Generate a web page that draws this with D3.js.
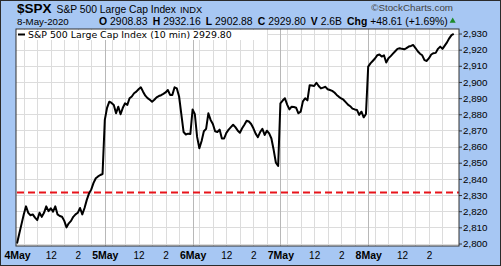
<!DOCTYPE html>
<html>
<head>
<meta charset="utf-8">
<script src="https://cdn.jsdelivr.net/npm/d3@7"></script>
<style>
body{margin:0;background:#fff}
svg{display:block}
text{font-family:"Liberation Sans",Arial,sans-serif}
</style>
</head>
<body>
<div id="chart"></div>
<script>
// 10 minute closes, 39 bars a day (9:30 .. 15:50)
var days = ["4May", "5May", "6May", "7May", "8May"];
var may4 = [2800, 2806, 2812, 2818, 2823, 2819, 2817.5, 2818, 2816, 2814.5, 2819, 2816.5, 2819, 2823, 2820,
	2821.8, 2819.7, 2823, 2818, 2817, 2816.6, 2814, 2810, 2812.5, 2814, 2816.5, 2818, 2819, 2822, 2818,
	2822, 2827, 2831, 2833.5, 2837.5, 2840.4, 2841.5, 2842.4, 2843];
var may5 = [2876.5, 2884, 2887.8, 2887, 2885.8, 2880.6, 2884.7, 2880, 2884, 2886.8, 2885.8, 2889.9, 2891, 2893, 2894,
	2895.5, 2896.7, 2894, 2891.5, 2890, 2889, 2887.8, 2889, 2890.5, 2891.3, 2891.8, 2892.6, 2893.5, 2895, 2892,
	2892, 2896.7, 2896, 2891, 2880, 2869, 2867.5, 2868, 2867.8];
var may6 = [2883, 2880, 2866, 2859, 2863.5, 2869.5, 2871, 2880.6, 2876.5, 2874, 2869.5, 2869, 2870.5, 2865, 2865,
	2868.5, 2870.5, 2872, 2873.5, 2872, 2870, 2868.6, 2871.3, 2873.5, 2876, 2875.5, 2874, 2871.3, 2868, 2865.8,
	2869, 2871, 2867.2, 2869.8, 2868.2, 2865, 2858, 2850, 2848];
var may7 = [2886.8, 2888.5, 2889.9, 2886, 2883, 2884.7, 2884.5, 2884, 2880.6, 2881.6, 2888, 2889.9, 2888.6, 2898, 2897.8,
	2897.5, 2899.5, 2897.5, 2896, 2896.5, 2897, 2895.5, 2895, 2894.5, 2893.5, 2892, 2890.8, 2889.8, 2889, 2887.5,
	2886, 2885, 2883.5, 2883, 2882.7, 2879.6, 2881.6, 2878.1, 2880.2];
var may8 = [2909.5, 2911.5, 2913, 2914.5, 2916.5, 2917, 2915.7, 2916.5, 2912, 2914.7, 2916, 2917.5, 2919, 2920.5, 2920.9,
	2920.5, 2920.2, 2921, 2921.9, 2922.3, 2922.9, 2921, 2919, 2917.5, 2916.5, 2913.5, 2913, 2914.7, 2917, 2917.8,
	2918, 2920.5, 2921.9, 2920.5, 2922.5, 2924.5, 2927, 2929, 2929.8];
var yTicks = [2800, 2810, 2820, 2830, 2840, 2850, 2860, 2870, 2880, 2890, 2900, 2910, 2920, 2930];
var hourOffsets = [3, 9, 15, 21, 27, 33];   // 10:00 .. 15:00 inside a day
var labelOffsets = [15, 27];                // "12" and "2"
var refLevel = 2831.6;
var quote = [["O", "2908.83"], ["H", "2932.16"], ["L", "2902.88"], ["C", "2929.80"], ["V", "2.6B"], ["Chg", "+48.61 (+1.69%)"]];

function init(){
	var w = 501, h = 266;
	var perDay = 39;
	var plot = {l: 16, r: 459, t: 29, b: 246};

	var dataset = [];
	[may4, may5, may6, may7, may8].forEach(function(day){
		day.forEach(function(v){ dataset.push(v); });
	});

	var xScale = d3.scaleLinear()
		.domain([0, days.length * perDay])
		.range([17, 456]);
	var yScale = d3.scaleLinear()
		.domain([2800, 2930])
		.range([243.5, 33.5]);

	var svg = d3.select("#chart").append("svg")
		.attr("width", w)
		.attr("height", h);

	// background + frame
	svg.append("rect").attr("x", 0.5).attr("y", 0.5).attr("width", w - 1).attr("height", h - 1)
		.attr("fill", "#a7c7f3").attr("stroke", "#2b2b2b");
	svg.append("rect").attr("x", plot.l).attr("y", plot.t)
		.attr("width", plot.r - plot.l).attr("height", plot.b - plot.t)
		.attr("fill", "#fff");

	// grid
	var grid = svg.append("g");
	grid.selectAll("line.h").data(yTicks).enter().append("line")
		.attr("x1", plot.l).attr("x2", plot.r)
		.attr("y1", function(d){ return Math.round(yScale(d)) + 0.5; })
		.attr("y2", function(d){ return Math.round(yScale(d)) + 0.5; })
		.attr("stroke", "#dcdcdc");
	var hours = [];
	days.forEach(function(d, i){
		hourOffsets.forEach(function(o){ hours.push(i * perDay + o); });
	});
	grid.selectAll("line.v").data(hours).enter().append("line")
		.attr("x1", function(d){ return Math.round(xScale(d)) + 0.5; })
		.attr("x2", function(d){ return Math.round(xScale(d)) + 0.5; })
		.attr("y1", plot.t).attr("y2", plot.b)
		.attr("stroke", "#dcdcdc");
	grid.selectAll("line.d").data(d3.range(1, days.length)).enter().append("line")
		.attr("x1", function(d){ return Math.round(xScale(d * perDay)) + 0.5; })
		.attr("x2", function(d){ return Math.round(xScale(d * perDay)) + 0.5; })
		.attr("y1", plot.t).attr("y2", plot.b)
		.attr("stroke", "#b8b8b8");

	// red reference line
	svg.append("line")
		.attr("x1", plot.l + 1).attr("x2", plot.r)
		.attr("y1", yScale(refLevel)).attr("y2", yScale(refLevel))
		.attr("stroke", "#e8141b").attr("stroke-width", 2)
		.attr("stroke-dasharray", "7,4");

	// price line
	var line = d3.line()
		.x(function(d, i){ return xScale(i); })
		.y(function(d){ return yScale(d); });
	svg.append("path").datum(dataset)
		.attr("d", line)
		.attr("fill", "none")
		.attr("stroke", "#000")
		.attr("stroke-width", 2)
		.attr("stroke-linejoin", "round");

	// legend
	svg.append("rect").attr("x", plot.l + 1).attr("y", plot.t + 1).attr("width", 250).attr("height", 10).attr("fill", "#fff");
	svg.append("line").attr("x1", 18).attr("x2", 25).attr("y1", 34.5).attr("y2", 34.5)
		.attr("stroke", "#000").attr("stroke-width", 2);
	svg.append("text").attr("x", 28).attr("y", 38)
		.style("font-family", "'DejaVu Sans',Verdana,sans-serif")
		.attr("font-size", "9.4px")
		.text("S&P 500 Large Cap Index (10 min) 2929.80");

	svg.append("rect").attr("x", plot.l).attr("y", plot.t)
		.attr("width", plot.r - plot.l).attr("height", plot.b - plot.t)
		.attr("fill", "none").attr("stroke", "#333");

	// right axis
	var yAxis = d3.axisRight(yScale).tickValues(yTicks).tickSize(3).tickPadding(1);
	var ya = svg.append("g").attr("transform", "translate(" + plot.r + ",0)").call(yAxis);
	ya.select(".domain").remove();
	ya.selectAll("line").attr("stroke", "#333");
	ya.selectAll("text").attr("font-size", "9.8px").attr("fill", "#000")
		.style("font-family", "'Liberation Sans',Arial,sans-serif");

	// bottom axis labels
	var xt = [];
	days.forEach(function(d, i){
		xt.push(i * perDay);
		labelOffsets.forEach(function(o){ xt.push(i * perDay + o); });
	});
	var xAxis = d3.axisBottom(xScale).tickValues(xt).tickSize(0).tickPadding(6)
		.tickFormat(function(d){
			var o = d % perDay;
			if (o === 0) return days[d / perDay];
			return o === 15 ? "12" : "2";
		});
	var xa = svg.append("g").attr("transform", "translate(0," + plot.b + ")").call(xAxis);
	xa.select(".domain").remove();
	xa.selectAll("text").attr("fill", "#000")
		.style("font-family", "'Liberation Sans',Arial,sans-serif")
		.attr("font-size", function(d){ return d % perDay === 0 ? "10.5px" : "10px"; })
		.attr("font-weight", function(d){ return d % perDay === 0 ? "bold" : "normal"; });

	// header
	var t1 = svg.append("text").attr("x", 17).attr("y", 13);
	t1.append("tspan").attr("font-weight", "bold").attr("font-size", "13.5px").text("$SPX");
	t1.append("tspan").attr("font-size", "10.3px").attr("dx", 5).text("S&P 500 Large Cap Index");
	t1.append("tspan").attr("font-size", "9.3px").attr("dx", 4).text("INDX");

	svg.append("text").attr("x", 17).attr("y", 25).attr("font-size", "9.7px").text("8-May-2020");
	var t2 = svg.append("text").attr("x", 99).attr("y", 25).attr("font-size", "10.4px");
	quote.forEach(function(q, i){
		t2.append("tspan").attr("font-weight", "bold").attr("dx", i ? 5 : 0).text(q[0]);
		t2.append("tspan").attr("dx", 3).text(q[1]);
	});
	var tb = t2.node().getBBox();
	svg.append("path")
		.attr("d", d3.symbol().type(d3.symbolTriangle).size(16)())
		.attr("transform", "translate(" + (tb.x + tb.width + 5) + ",21)")
		.attr("fill", "#1d8a2a");

	svg.append("text").attr("x", 453).attr("y", 11).attr("text-anchor", "end")
		.attr("font-size", "9.8px").attr("fill", "#444").text("\u00a9StockCharts.com");
}
window.onload = init;
</script>
</body>
</html>
